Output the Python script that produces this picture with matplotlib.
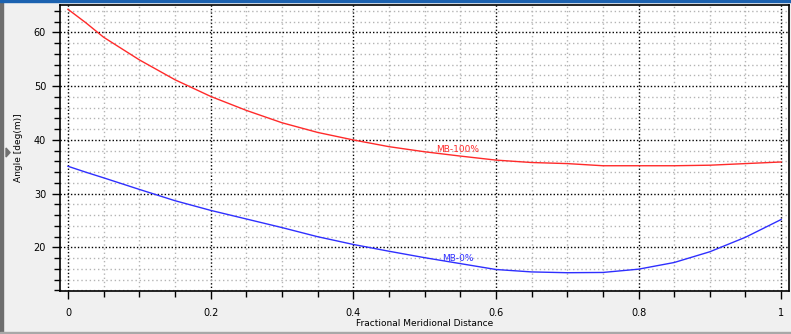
import matplotlib
matplotlib.use("Agg")
import matplotlib.pyplot as plt
from matplotlib.patches import Rectangle, Polygon
from matplotlib.ticker import MultipleLocator, FixedLocator

# fractional meridional distance stations
distance = [0.0, 0.025, 0.05, 0.1, 0.15, 0.2, 0.25, 0.3, 0.35, 0.4, 0.45, 0.5,
            0.55, 0.6, 0.65, 0.7, 0.75, 0.8, 0.85, 0.9, 0.95, 1.0]

# blade angle at 100% span (MB-100%)
angle_mb100 = [64.3, 61.8, 59.1, 54.9, 51.2, 48.1, 45.5, 43.2, 41.4, 40.0, 38.75, 37.8,
               37.0, 36.25, 35.8, 35.6, 35.2, 35.2, 35.2, 35.3, 35.6, 35.9]

# blade angle at 0% span (MB-0%)
angle_mb0 = [35.1, 34.0, 32.95, 30.8, 28.7, 26.9, 25.3, 23.7, 22.0, 20.56, 19.3, 18.1,
             17.0, 15.9, 15.45, 15.3, 15.35, 15.96, 17.2, 19.2, 21.9, 25.2]

series_names = ["MB-100%", "MB-0%"]
series_colors = ["#ff2a2a", "#2f2fff"]
label_pos = [(0.547, 38.2), (0.547, 17.95)]

x_ticks = [0, 0.2, 0.4, 0.6, 0.8, 1.0]
x_tick_labels = ["0", "0.2", "0.4", "0.6", "0.8", "1"]
y_ticks = [20, 30, 40, 50, 60]

plt.rcParams["font.family"] = ["DejaVu Sans"]

fig = plt.figure(figsize=(7.91, 3.34), dpi=100, facecolor="#f0f0f0")
ax = fig.add_axes([60 / 791, 1 - 291 / 334, 729 / 791, 286 / 334])
ax.set_facecolor("white")

# window frame decorations
fig.patches.append(Rectangle((0, 0), 3 / 791, 1, transform=fig.transFigure,
                             color="#6e6e6e", zorder=0))
fig.patches.append(Rectangle((0, 1 - 2 / 334), 1, 2 / 334, transform=fig.transFigure,
                             color="#1c62b0", zorder=0))
fig.patches.append(Rectangle((0, 0), 1, 2 / 334, transform=fig.transFigure,
                             color="#a8a8a8", zorder=0))
fig.patches.append(Polygon([(6 / 791, 1 - 148 / 334), (6 / 791, 1 - 157 / 334),
                            (10 / 791, 1 - 152.5 / 334)], closed=True,
                           transform=fig.transFigure, color="#707070"))
fig.lines.append(plt.Line2D([15 / 791, 15 / 791], [1 - 160 / 334, 1 - 176 / 334],
                            transform=fig.transFigure, color="#a0a0a0",
                            linestyle=(0, (1, 2)), linewidth=0.8))

for ys, name, col, (lx, ly) in zip([angle_mb100, angle_mb0], series_names,
                                   series_colors, label_pos):
    ax.plot(distance, ys, color=col, linewidth=1.0, zorder=3)
    ax.text(lx, ly, name, color=col, fontsize=6.5, ha="center", va="center", zorder=4)

ax.set_xlim(-0.0112, 1.011)
ax.set_ylim(11.9, 65.1)

ax.xaxis.set_major_locator(FixedLocator(x_ticks))
ax.set_xticklabels(x_tick_labels)
ax.xaxis.set_minor_locator(MultipleLocator(0.05))
ax.yaxis.set_major_locator(FixedLocator(y_ticks))
ax.yaxis.set_minor_locator(MultipleLocator(2))

ax.grid(which="major", color="black", linestyle=(0, (1, 1.5)), linewidth=1.0)
ax.grid(which="minor", color="#b4b4b4", linestyle=(0, (1, 2)), linewidth=1.0)
ax.set_axisbelow(True)

ax.tick_params(which="major", direction="out", length=6, width=1, labelsize=7,
               colors="black", pad=4)
ax.tick_params(which="minor", direction="out", length=4, width=1)
ax.tick_params(axis="x", which="major", pad=6)

for s in ax.spines.values():
    s.set_color("black")
    s.set_linewidth(1.2)

ax.set_xlabel("Fractional Meridional Distance", fontsize=6.5, labelpad=1)
ax.set_ylabel("Angle [deg(m)]", fontsize=6.5, labelpad=8)

fig.savefig("out.png", dpi=100, facecolor=fig.get_facecolor())
